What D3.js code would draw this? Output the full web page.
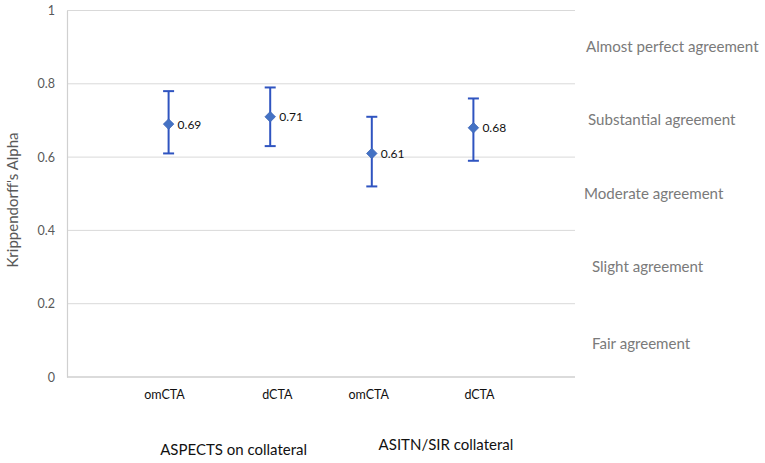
<!DOCTYPE html>
<html>
<head>
<meta charset="utf-8">
<script src="https://cdn.jsdelivr.net/npm/d3@7"></script>
<style>
  body { margin: 0; background: #fff; }
  text { font-family: Lato, "Open Sans", sans-serif; }
</style>
</head>
<body>
<div id="chart"></div>
<script>
// data
var xpos = [1, 2, 3, 4]
var alpha = [0.69, 0.71, 0.61, 0.68]
var lower = [0.61, 0.63, 0.52, 0.59]
var upper = [0.78, 0.79, 0.71, 0.76]
var cat_labels = ['omCTA', 'dCTA', 'omCTA', 'dCTA']
var cat_label_x = [0.96, 2.07, 2.97, 4.06]
var group_labels = ['ASPECTS on collateral', 'ASITN/SIR collateral']
var group_label_x = [1.64, 3.73]
var y_ticks = [0, 0.2, 0.4, 0.6, 0.8, 1]
var bands = ['Almost perfect agreement', 'Substantial agreement', 'Moderate agreement', 'Slight agreement', 'Fair agreement']
var band_mid = [0.9, 0.7, 0.5, 0.3, 0.09]

var width = 765, height = 463
// plot area (window.top is read-only, so use other names)
var plot_left = 67, plot_right = 575, plot_top = 10.5, plot_bottom = 377

var svg = d3.select('#chart')
    .append('svg')
    .attr('width', width)
    .attr('height', height)

var x = d3.scaleLinear().domain([0, 5]).range([plot_left, plot_right])
var y = d3.scaleLinear().domain([0, 1]).range([plot_bottom, plot_top])

// gridlines
svg.selectAll('.grid')
    .data(y_ticks.filter(d => d > 0))
    .enter()
    .append('line')
    .attr('x1', plot_left).attr('x2', plot_right)
    .attr('y1', d => y(d)).attr('y2', d => y(d))
    .attr('stroke', '#d9d9d9')
    .attr('stroke-width', 1)

// axes
var yAxis = svg.append('g')
    .attr('transform', `translate(${plot_left},0)`)
    .call(d3.axisLeft(y).tickValues(y_ticks).tickFormat(d3.format('')).tickSize(0).tickPadding(12))
yAxis.select('.domain').attr('stroke', '#d0d0d0').attr('stroke-width', 1.2)
yAxis.selectAll('text')
    .attr('fill', '#595959')
    .style('font-size', '12.5px')

svg.append('line')
    .attr('x1', plot_left).attr('x2', plot_right)
    .attr('y1', y(0)).attr('y2', y(0))
    .attr('stroke', '#cfcfcf')
    .attr('stroke-width', 1.5)

svg.append('text')
    .attr('transform', 'translate(18,200) rotate(-90)')
    .attr('text-anchor', 'middle')
    .attr('fill', '#595959')
    .style('font-size', '15px')
    .text("Krippendorff's Alpha")

// error bars
var blue = '#2f54c0'
var cap = 5.5
var bars = svg.selectAll('.bar')
    .data(xpos)
    .enter()
    .append('g')
bars.append('line')
    .attr('x1', (d, i) => x(d)).attr('x2', (d, i) => x(d))
    .attr('y1', (d, i) => y(lower[i])).attr('y2', (d, i) => y(upper[i]))
    .attr('stroke', blue).attr('stroke-width', 2)
bars.append('line')
    .attr('x1', (d, i) => x(d) - cap).attr('x2', (d, i) => x(d) + cap)
    .attr('y1', (d, i) => y(upper[i])).attr('y2', (d, i) => y(upper[i]))
    .attr('stroke', blue).attr('stroke-width', 2)
bars.append('line')
    .attr('x1', (d, i) => x(d) - cap).attr('x2', (d, i) => x(d) + cap)
    .attr('y1', (d, i) => y(lower[i])).attr('y2', (d, i) => y(lower[i]))
    .attr('stroke', blue).attr('stroke-width', 2)

// diamonds
bars.append('path')
    .attr('d', d3.symbol().type(d3.symbolDiamond2).size(70))
    .attr('transform', (d, i) => `translate(${x(d)},${y(alpha[i])})`)
    .attr('fill', '#4472c4')
    .attr('stroke', '#3a63b8')
    .attr('stroke-width', 0.8)

bars.append('text')
    .attr('x', (d, i) => x(d) + 9)
    .attr('y', (d, i) => y(alpha[i]) + 4.5)
    .attr('fill', '#111')
    .style('font-size', '12px')
    .text((d, i) => alpha[i].toFixed(2))

// category labels
svg.selectAll('.cat')
    .data(cat_labels)
    .enter()
    .append('text')
    .attr('x', (d, i) => x(cat_label_x[i]))
    .attr('y', 399)
    .attr('text-anchor', 'middle')
    .attr('fill', '#111')
    .style('font-size', '12.5px')
    .text(d => d)

svg.selectAll('.group')
    .data(group_labels)
    .enter()
    .append('text')
    .attr('x', (d, i) => x(group_label_x[i]))
    .attr('y', (d, i) => i == 0 ? 455 : 450)
    .attr('text-anchor', 'middle')
    .attr('fill', '#111')
    .style('font-size', '15px')
    .text(d => d)

// agreement bands on the right
svg.selectAll('.band')
    .data(bands)
    .enter()
    .append('text')
    .attr('x', (d, i) => i == 0 ? 586 : (i == 2 ? 584 : (i == 1 ? 588 : 592)))
    .attr('y', (d, i) => y(band_mid[i]) + 5)
    .attr('fill', '#7a7a7a')
    .style('font-size', '15.1px')
    .text(d => d)
</script>
</body>
</html>
